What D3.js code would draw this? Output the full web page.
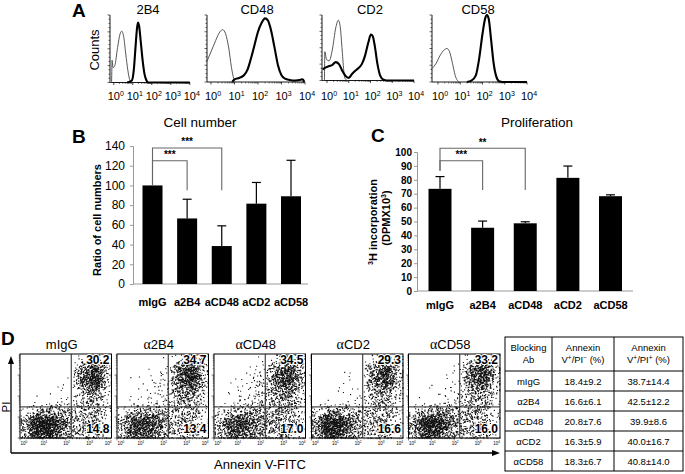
<!DOCTYPE html>
<html><head><meta charset="utf-8">
<script src="https://cdn.jsdelivr.net/npm/d3@7"></script>
<style>
body{margin:0;background:#fff;}
svg{display:block;}
text{font-family:"Liberation Sans",Arial,sans-serif;fill:#000;}
</style>
</head><body>
<svg id="c" width="685" height="474"></svg>
<script>
// ---------------- DATA ----------------
// Panel A: flow histograms (x = log10 fluorescence, y = % of max count)
const histMarkers = ["2B4", "CD48", "CD2", "CD58"];
const logTicks = [0, 1, 2, 3, 4];
const histControl = [
  [[-0.2,0],[-0.12,0],[-0.09,33],[-0.04,22],[0.05,25],[0.2,52],[0.33,72],[0.42,76],[0.52,68],[0.63,42],[0.74,18],[0.84,4],[0.95,0]],
  [[-0.17,31],[0.0,45],[0.2,62],[0.38,75],[0.5,78],[0.62,72],[0.75,52],[0.87,22],[0.97,5],[1.05,0]],
  [[-0.2,0],[-0.12,0],[-0.1,44],[-0.02,32],[0.1,30],[0.25,48],[0.4,80],[0.52,92],[0.6,84],[0.7,45],[0.78,12],[0.85,2],[0.95,0]],
  [[-0.27,20],[-0.1,27],[0.1,40],[0.28,48],[0.4,50],[0.52,45],[0.65,28],[0.77,10],[0.88,2],[0.95,0]]
];
const histStained = [
  [[0.7,0],[0.95,3],[1.05,18],[1.15,55],[1.22,80],[1.27,89],[1.33,84],[1.42,60],[1.52,32],[1.62,12],[1.72,3],[1.82,0],[4,0]],
  [[0.9,0],[1.0,4],[1.2,6],[1.4,10],[1.55,18],[1.7,35],[1.85,55],[2.0,75],[2.15,88],[2.3,95],[2.42,92],[2.55,78],[2.7,52],[2.85,25],[3.0,10],[3.15,5],[3.35,3],[3.55,2],[3.75,3],[3.9,4],[3.97,0]],
  [[-0.2,17],[-0.05,20],[0.1,22],[0.25,24],[0.4,28],[0.55,25],[0.7,15],[0.85,7],[1.0,4],[1.15,10],[1.3,15],[1.45,19],[1.6,25],[1.75,38],[1.9,58],[2.02,70],[2.1,68],[2.2,52],[2.32,25],[2.45,7],[2.6,1],[2.75,0],[4,0]],
  [[1.3,0],[1.5,2],[1.7,10],[1.85,35],[2.0,72],[2.12,95],[2.2,100],[2.28,94],[2.38,65],[2.5,28],[2.62,8],[2.75,1],[2.9,0],[4,0]]
];

// Panels B, C: bar charts
const categories = ["mIgG", "a2B4", "aCD48", "aCD2", "aCD58"];
const cellNumber = [100, 66.5, 38.5, 81.5, 89];
const cellNumberErr = [0, 19.5, 20.5, 21.5, 36.5];
const cellTicks = [0, 20, 40, 60, 80, 100, 120, 140];
const cellSig = [
  {from: 0, to: 1, level: 125, start: 100, end: 95, label: "***"},
  {from: 0, to: 2, level: 138, start: 100, end: 95, label: "***"}
];
const prolif = [73.5, 45.5, 48.7, 81.4, 68.2];
const prolifErr = [8.8, 4.8, 1.1, 8.5, 1.0];
const prolifTicks = [0, 10, 20, 30, 40, 50, 60, 70, 80, 90, 100];
const prolifSig = [
  {from: 0, to: 1, level: 93.7, start: 86.5, end: 72.7, label: "***"},
  {from: 0, to: 2, level: 102.7, start: 86.5, end: 72.7, label: "**"}
];

// Panel D: dot plots. Estimated event counts per half-decade cell,
// rows from top (PI 10^3.5-10^4) to bottom, columns Annexin 10^0 -> 10^4
const flowTitles = ["mIgG", "2B4", "CD48", "CD2", "CD58"];
const flowAlpha = [false, true, true, true, true];
const flowUR = ["30.2", "34.7", "34.5", "29.3", "33.2"];
const flowLR = ["14.8", "13.4", "17.0", "16.6", "16.0"];
const flowGrids = [
  [[0,0,0,0,0,6,14,4],[0,0,0,0,1,80,170,25],[0,0,0,2,3,90,200,30],[0,0,1,2,3,40,70,12],
   [0,1,2,3,6,30,45,8],[8,40,60,45,25,35,45,10],[50,230,240,110,40,40,45,10],[40,170,170,80,30,35,40,8]],
  [[0,0,0,0,1,12,22,8],[0,0,1,2,6,85,160,30],[0,1,3,6,10,95,170,35],[0,1,3,8,12,65,80,15],
   [0,2,5,8,12,40,45,10],[8,35,50,45,30,35,35,10],[40,160,170,100,40,35,40,8],[30,120,120,70,30,30,30,6]],
  [[0,0,0,0,2,10,16,8],[0,0,1,3,12,75,130,40],[0,1,4,10,20,95,150,40],[0,2,5,12,20,65,75,20],
   [1,3,8,16,22,45,50,15],[8,30,50,50,40,45,45,15],[35,140,150,90,45,45,45,12],[30,110,110,60,35,40,40,8]],
  [[0,0,0,0,0,8,16,8],[0,0,0,1,3,75,150,30],[0,0,1,3,4,80,160,30],[0,0,2,3,4,45,60,12],
   [0,1,2,4,6,35,40,10],[15,55,50,35,25,40,40,10],[70,240,190,80,35,40,40,8],[55,180,150,60,25,35,35,6]],
  [[0,0,0,0,1,12,22,6],[0,0,0,1,4,90,160,25],[0,0,1,3,6,85,150,25],[0,0,2,5,8,45,60,12],
   [0,1,3,8,12,35,40,10],[10,45,65,50,35,40,40,10],[55,210,200,90,40,40,40,8],[40,150,140,60,30,35,35,6]]
];
const gateX = 2.24, gateY = 1.48;

// Table
const tableRows = [
  ["mIgG", "18.4±9.2", "38.7±14.4"],
  ["α2B4", "16.6±6.1", "42.5±12.2"],
  ["αCD48", "20.8±7.6", "39.9±8.6"],
  ["αCD2", "16.3±5.9", "40.0±16.7"],
  ["αCD58", "18.3±6.7", "40.8±14.0"]
];

// ---------------- DRAW ----------------
const svg = d3.select("#c");
svg.append("rect").attr("width", 685).attr("height", 474).attr("fill", "#fff");

function panelLetter(t, x, y) {
  svg.append("text").attr("x", x).attr("y", y).attr("font-size", 19).attr("font-weight", "bold").text(t);
}
panelLetter("A", 72, 17);
panelLetter("B", 72, 143);
panelLetter("C", 371, 142);
panelLetter("D", 1, 345);

// ---- Panel A ----
const histLayout = [
  {x0: 110, lo: -0.2, dec: 19, bottom: 82.5, title: 148},
  {x0: 207, lo: -0.17, dec: 23.5, bottom: 82, title: 257},
  {x0: 322, lo: -0.23, dec: 21.75, bottom: 80.5, title: 370},
  {x0: 432, lo: -0.27, dec: 22.25, bottom: 82, title: 478}
];
const histTop = 15;
svg.append("text").attr("transform", "translate(99,50) rotate(-90)")
  .attr("text-anchor", "middle").attr("font-size", 13).text("Counts");

histMarkers.forEach((m, i) => {
  const L = histLayout[i];
  const x = d3.scaleLinear().domain([L.lo, 4]).range([L.x0, L.x0 + (4 - L.lo) * L.dec]);
  const y = d3.scaleLinear().domain([0, 100]).range([L.bottom, histTop]);
  const g = svg.append("g");
  g.append("text").attr("x", L.title).attr("y", 14).attr("text-anchor", "middle").attr("font-size", 13).text(m);
  g.append("line").attr("x1", L.x0).attr("x2", L.x0).attr("y1", histTop).attr("y2", L.bottom).attr("stroke", "#000").attr("stroke-width", 0.9);
  g.append("line").attr("x1", L.x0).attr("x2", x(4)).attr("y1", L.bottom).attr("y2", L.bottom).attr("stroke", "#000").attr("stroke-width", 0.9);
  for (let k = 0; k <= 16; k++) {
    const yy = histTop + k * (L.bottom - histTop) / 16;
    g.append("line").attr("x1", L.x0 - (k % 4 === 0 ? 2.5 : 1.5)).attr("x2", L.x0).attr("y1", yy).attr("y2", yy).attr("stroke", "#000").attr("stroke-width", 0.6);
  }
  for (let d = 0; d < 4; d++) {
    for (let mm = 2; mm <= 9; mm++) {
      const xx = x(d + Math.log10(mm));
      g.append("line").attr("x1", xx).attr("x2", xx).attr("y1", L.bottom).attr("y2", L.bottom + 1.5).attr("stroke", "#000").attr("stroke-width", 0.5);
    }
  }
  logTicks.forEach(t => {
    const xx = x(t);
    g.append("line").attr("x1", xx).attr("x2", xx).attr("y1", L.bottom).attr("y2", L.bottom + 2.5).attr("stroke", "#000").attr("stroke-width", 0.7);
    const tx = g.append("text").attr("x", xx + 2).attr("y", 100).attr("text-anchor", "middle").attr("font-size", 11);
    tx.append("tspan").text("10");
    tx.append("tspan").attr("dy", -4).attr("font-size", 7).text(t);
  });
  const line = d3.line().x(d => x(d[0])).y(d => y(d[1])).curve(d3.curveMonotoneX);
  g.append("path").attr("d", line(histControl[i])).attr("fill", "none").attr("stroke", "#444").attr("stroke-width", 0.9);
  g.append("path").attr("d", line(histStained[i])).attr("fill", "none").attr("stroke", "#000").attr("stroke-width", 2.1).attr("stroke-linejoin", "round");
});

// ---- Bar chart helper ----
function barChart(o) {
  const g = svg.append("g");
  const x = d3.scalePoint().domain(categories).range(o.xr);
  const y = d3.scaleLinear().domain(o.domain).range(o.yr);
  g.append("text").attr("x", o.titleX).attr("y", 127).attr("text-anchor", "middle").attr("font-size", 13.5).text(o.title);
  const ax = g.append("g").attr("transform", `translate(${o.axisX},0)`)
    .call(d3.axisLeft(y).tickValues(o.ticks).tickSize(3).tickPadding(o.pad));
  ax.select(".domain").attr("stroke", "#999");
  ax.selectAll(".tick line").attr("stroke", "#999");
  ax.selectAll(".tick text").attr("font-size", o.tickFont).attr("font-weight", o.tickBold ? "bold" : "normal")
    .attr("font-family", '"Liberation Sans",Arial,sans-serif').attr("fill", "#000");
  g.append("line").attr("x1", o.axisX).attr("x2", o.axisEnd).attr("y1", y(0)).attr("y2", y(0)).attr("stroke", "#999");
  categories.forEach((c, i) => {
    g.append("text").attr("x", x(c)).attr("y", o.catY).attr("text-anchor", "middle").attr("font-size", 11)
      .attr("font-weight", "bold").text(c);
  });
  g.selectAll("rect.bar").data(o.values).enter().append("rect")
    .attr("x", (d, i) => x(categories[i]) - o.bw / 2).attr("width", o.bw)
    .attr("y", d => y(d)).attr("height", d => y(0) - y(d)).attr("fill", "#000");
  o.values.forEach((v, i) => {
    const e = o.errs[i];
    if (e <= 0) return;
    const cx = x(categories[i]);
    g.append("line").attr("x1", cx).attr("x2", cx).attr("y1", y(v)).attr("y2", y(v + e)).attr("stroke", "#000").attr("stroke-width", 1.2);
    g.append("line").attr("x1", cx - 4.5).attr("x2", cx + 4.5).attr("y1", y(v + e)).attr("y2", y(v + e)).attr("stroke", "#000").attr("stroke-width", 1.2);
  });
  o.sig.forEach(s => {
    const x1 = x(categories[s.from]), x2 = x(categories[s.to]);
    g.append("path").attr("d", `M${x1},${y(s.start)}V${y(s.level)}H${x2}V${y(s.end)}`)
      .attr("fill", "none").attr("stroke", "#666").attr("stroke-width", 1.1);
    g.append("text").attr("x", (x1 + x2) / 2).attr("y", y(s.level) - 2.5).attr("text-anchor", "middle")
      .attr("font-size", 10).attr("font-weight", "bold").attr("fill", "#222").text(s.label);
  });
  return g;
}

barChart({xr: [152.5, 291], domain: [0, 140], yr: [284, 146], values: cellNumber, errs: cellNumberErr,
  ticks: cellTicks, axisX: 133, axisEnd: 308, bw: 20, tickFont: 12, tickBold: false, catY: 306, pad: 5,
  title: "Cell number", titleX: 200, sig: cellSig});
svg.append("text").attr("transform", "translate(101,220) rotate(-90)").attr("text-anchor", "middle")
  .attr("font-size", 11).attr("font-weight", "bold").text("Ratio of cell numbers");

barChart({xr: [440, 610.5], domain: [0, 100], yr: [291, 152], values: prolif, errs: prolifErr,
  ticks: prolifTicks, axisX: 417, axisEnd: 633, bw: 23, tickFont: 10, tickBold: true, catY: 309, pad: 2,
  title: "Proliferation", titleX: 537, sig: prolifSig});
{
  const t1 = svg.append("text").attr("transform", "translate(377,222) rotate(-90)").attr("text-anchor", "middle")
    .attr("font-size", 11).attr("font-weight", "bold");
  t1.append("tspan").attr("font-size", 7).attr("dy", -4).text("3");
  t1.append("tspan").attr("dy", 4).text("H incorporation");
  const t2 = svg.append("text").attr("transform", "translate(390,218) rotate(-90)").attr("text-anchor", "middle")
    .attr("font-size", 11).attr("font-weight", "bold");
  t2.append("tspan").text("(DPMX10");
  t2.append("tspan").attr("font-size", 7).attr("dy", -4).text("3");
  t2.append("tspan").attr("dy", 4).text(")");
}

// ---- Panel D ----
function halton(i, b) { let f = 1, r = 0; while (i > 0) { f /= b; r += f * (i % b); i = Math.floor(i / b); } return r; }
const flowLeft = [20, 117, 214, 311.5, 408.5];
const fW = 91.5, fTop = 354, fBot = 438;
flowGrids.forEach((grid, p) => {
  const L = flowLeft[p];
  const xs = d3.scaleLinear().domain([0, 4]).range([L, L + fW]);
  const ys = d3.scaleLinear().domain([0, 4]).range([fBot, fTop]);
  const g = svg.append("g");
  const tt = g.append("text").attr("x", L + fW / 2 - 4).attr("y", 349).attr("text-anchor", "middle").attr("font-size", 13);
  if (flowAlpha[p]) tt.append("tspan").attr("font-family", '"Liberation Serif","DejaVu Serif",serif').attr("font-size", 14).text("α");
  tt.append("tspan").text(flowTitles[p]);
  let d = "";
  let gi = 1 + p * 4001;
  grid.forEach((row, ri) => {
    const yc = (7 - ri) * 0.5 + 0.25;
    row.forEach((n, ci) => {
      const xc = ci * 0.5 + 0.25;
      for (let k = 0; k < n; k++, gi++) {
        const u = halton(gi, 2) + halton(gi, 3) - 1;
        const v = halton(gi, 5) + halton(gi, 7) - 1;
        const lx = Math.max(0.03, Math.min(3.97, xc + u * 0.48));
        const ly = Math.max(0.03, Math.min(3.97, yc + v * 0.48));
        d += `M${xs(lx).toFixed(1)},${ys(ly).toFixed(1)}h1.1v1.1h-1.1z`;
      }
    });
  });
  g.append("path").attr("d", d).attr("fill", "#111");
  g.append("rect").attr("x", L).attr("y", fTop).attr("width", fW).attr("height", fBot - fTop)
    .attr("fill", "none").attr("stroke", "#000").attr("stroke-width", 1);
  g.append("line").attr("x1", xs(gateX)).attr("x2", xs(gateX)).attr("y1", fTop).attr("y2", fBot).attr("stroke", "#222").attr("stroke-width", 1);
  g.append("line").attr("x1", L).attr("x2", L + fW).attr("y1", ys(gateY)).attr("y2", ys(gateY)).attr("stroke", "#222").attr("stroke-width", 1);
  for (let dd = 0; dd < 4; dd++) {
    for (let mm = 1; mm <= 9; mm++) {
      const v = dd + Math.log10(mm);
      const len = mm === 1 ? 2.5 : 1.2;
      g.append("line").attr("x1", L - len).attr("x2", L).attr("y1", ys(v)).attr("y2", ys(v)).attr("stroke", "#000").attr("stroke-width", 0.5);
      g.append("line").attr("x1", xs(v)).attr("x2", xs(v)).attr("y1", fBot).attr("y2", fBot + len).attr("stroke", "#000").attr("stroke-width", 0.5);
    }
  }
  logTicks.forEach(t => {
    const anchor = t === 0 ? "start" : (t === 4 ? "end" : "middle");
    const tx = g.append("text").attr("x", xs(t) + (t === 0 ? 0.5 : (t === 4 ? 0 : 1))).attr("y", 445)
      .attr("text-anchor", anchor).attr("font-size", 4.5);
    tx.append("tspan").text("10");
    tx.append("tspan").attr("dy", -2).attr("font-size", 3.2).text(t);
  });
  g.append("text").attr("x", L + fW - 2).attr("y", 364).attr("text-anchor", "end").attr("font-size", 12)
    .attr("font-weight", "bold").attr("stroke", "#fff").attr("stroke-width", 2).attr("paint-order", "stroke").text(flowUR[p]);
  g.append("text").attr("x", L + fW - 2).attr("y", 433).attr("text-anchor", "end").attr("font-size", 12)
    .attr("font-weight", "bold").attr("stroke", "#fff").attr("stroke-width", 2).attr("paint-order", "stroke").text(flowLR[p]);
});
svg.append("path").attr("d", "M11,453V361 M11,453H494").attr("stroke", "#000").attr("stroke-width", 1.3).attr("fill", "none");
svg.append("path").attr("d", "M11,356L8,364L14,364Z").attr("fill", "#000");
svg.append("path").attr("d", "M500,453L492,450L492,456Z").attr("fill", "#000");
svg.append("text").attr("transform", "translate(9.5,407) rotate(-90)").attr("text-anchor", "middle").attr("font-size", 11.5).text("PI");
svg.append("text").attr("x", 260).attr("y", 469).attr("text-anchor", "middle").attr("font-size", 13).text("Annexin V-FITC");

// ---- Table ----
const tCols = [505, 552, 614, 683];
const tRowsY = [337, 371, 391, 411, 431, 451, 471];
const tg = svg.append("g");
tg.append("rect").attr("x", tCols[0]).attr("y", tRowsY[0]).attr("width", tCols[3] - tCols[0]).attr("height", tRowsY[6] - tRowsY[0])
  .attr("fill", "none").attr("stroke", "#000").attr("stroke-width", 1);
tCols.slice(1, 3).forEach(cx => tg.append("line").attr("x1", cx).attr("x2", cx).attr("y1", tRowsY[0]).attr("y2", tRowsY[6]).attr("stroke", "#000"));
tRowsY.slice(1, 6).forEach(ry => tg.append("line").attr("x1", tCols[0]).attr("x2", tCols[3]).attr("y1", ry).attr("y2", ry).attr("stroke", "#000"));
const colC = [0, 1, 2].map(i => (tCols[i] + tCols[i + 1]) / 2);
function tText(x, y) { return tg.append("text").attr("x", x).attr("y", y).attr("text-anchor", "middle").attr("font-size", 9.5).attr("fill", "#222"); }
tText(colC[0], 351).text("Blocking");
tText(colC[0], 363).text("Ab");
tText(colC[1], 351).text("Annexin");
tText(colC[2], 351).text("Annexin");
[["+", "−"], ["+", "+"]].forEach((s, k) => {
  const t = tText(colC[k + 1], 363);
  t.append("tspan").text("V");
  t.append("tspan").attr("font-size", 6.5).attr("dy", -3).text(s[0]);
  t.append("tspan").attr("dy", 3).text("/PI");
  t.append("tspan").attr("font-size", 6.5).attr("dy", -3).text(s[1]);
  t.append("tspan").attr("dy", 3).text(" (%)");
});
tableRows.forEach((r, i) => {
  const yc = (tRowsY[i + 1] + tRowsY[i + 2]) / 2 + 3.5;
  r.forEach((cell, j) => tText(colC[j], yc).text(cell));
});
</script>
</body></html>
